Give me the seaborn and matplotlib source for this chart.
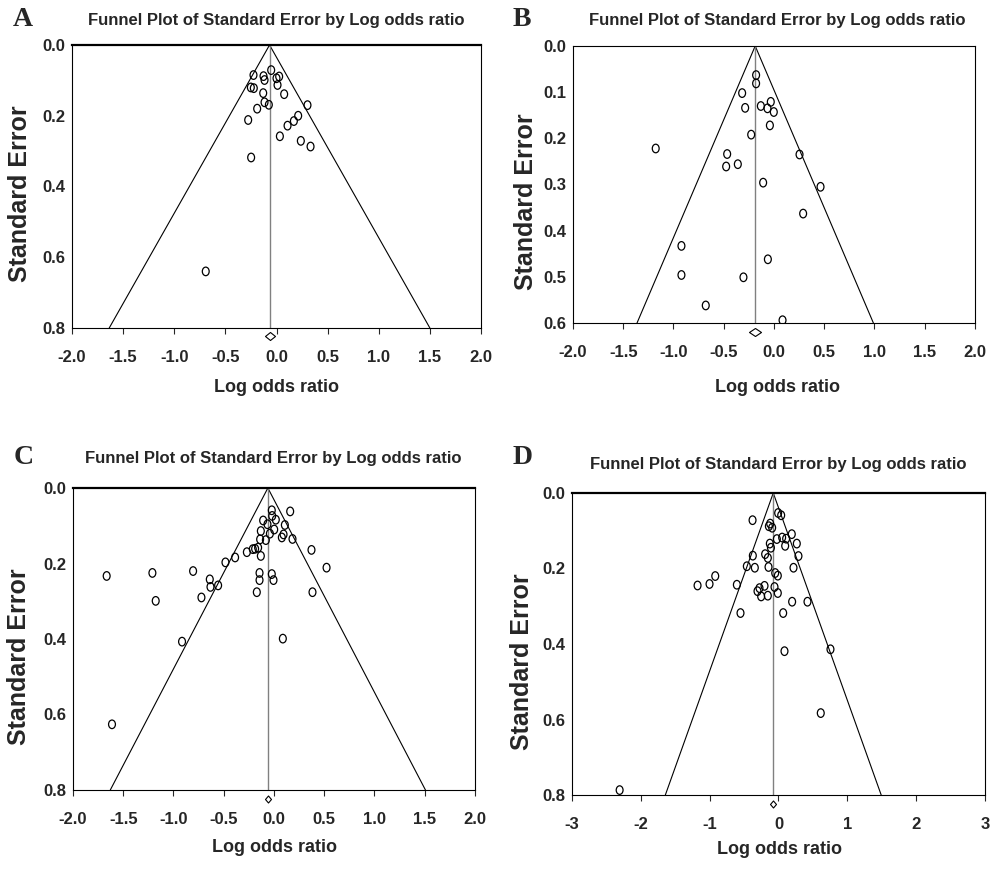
import numpy as np
import pandas as pd
import matplotlib
matplotlib.use("Agg")
import matplotlib.pyplot as plt
from matplotlib import font_manager
from matplotlib.path import Path
import seaborn as sns

# ---------------- data ----------------
a_lor = [-0.225, -0.127, -0.117, -0.052, 0.000, 0.026, 0.010, -0.251, -0.222, -0.130,
         0.075, -0.117, -0.075, -0.189, 0.303, -0.277, 0.212, 0.170, 0.108, 0.033,
         0.238, 0.333, -0.248, -0.692]
a_se = [0.085, 0.088, 0.099, 0.071, 0.094, 0.089, 0.113, 0.120, 0.122, 0.136,
        0.139, 0.162, 0.169, 0.180, 0.170, 0.212, 0.200, 0.215, 0.228, 0.258,
        0.271, 0.287, 0.318, 0.640]

b_lor = [-0.178, -0.178, -0.317, -0.287, -0.131, -0.032, -0.065, -0.002, -0.041, -0.227,
         -1.177, -0.466, -0.476, -0.360, 0.254, -0.108, 0.463, 0.290, -0.921, -0.061,
         -0.921, -0.304, -0.679, 0.085]
b_se = [0.063, 0.081, 0.102, 0.134, 0.130, 0.121, 0.135, 0.143, 0.172, 0.192,
        0.222, 0.234, 0.261, 0.256, 0.235, 0.296, 0.305, 0.363, 0.433, 0.462,
        0.496, 0.501, 0.562, 0.594]

c_lor = [-0.022, 0.161, -0.018, -0.108, 0.018, -0.065, 0.108, 0.002, -0.131, -0.041,
         0.095, 0.078, 0.184, -0.138, -0.081, -0.158, -0.188, -0.211, -0.270, -0.131,
         0.373, -0.387, -0.483, 0.523, -0.805, -1.210, -1.665, -0.144, -0.022, -0.144,
         -0.005, -0.639, -0.632, -0.556, -0.171, 0.383, -0.722, -1.177, -0.915, 0.088,
         -1.612]
c_se = [0.059, 0.062, 0.074, 0.086, 0.084, 0.096, 0.098, 0.110, 0.114, 0.121,
        0.123, 0.131, 0.135, 0.136, 0.138, 0.158, 0.161, 0.162, 0.170, 0.180,
        0.164, 0.184, 0.197, 0.211, 0.220, 0.225, 0.233, 0.225, 0.228, 0.244,
        0.244, 0.242, 0.262, 0.258, 0.276, 0.276, 0.290, 0.299, 0.407, 0.399,
        0.626]

d_lor = [-0.005, 0.039, -0.377, -0.121, -0.140, -0.092, 0.193, 0.053, -0.024, 0.111,
         0.266, -0.126, -0.110, 0.097, -0.194, -0.373, -0.155, 0.290, -0.460, -0.344,
         -0.145, 0.218, -0.048, -0.010, -0.919, -1.002, -1.176, -0.605, -0.203, -0.058,
         -0.276, -0.305, -0.252, -0.155, -0.010, 0.198, 0.421, -0.552, 0.068, 0.755,
         0.087, 0.614, -2.308]
d_se = [0.053, 0.059, 0.072, 0.081, 0.088, 0.092, 0.109, 0.118, 0.122, 0.121,
        0.134, 0.134, 0.145, 0.140, 0.162, 0.166, 0.172, 0.167, 0.194, 0.198,
        0.196, 0.198, 0.212, 0.219, 0.220, 0.241, 0.245, 0.243, 0.246, 0.249,
        0.252, 0.260, 0.274, 0.272, 0.265, 0.288, 0.288, 0.318, 0.318, 0.414,
        0.419, 0.583, 0.787]

panel_letters = ["A", "B", "C", "D"]
pooled_lor = [-0.068, -0.187, -0.061, -0.076]
diamond_se = [0.822, 0.619, 0.825, 0.824]
se_max = [0.8, 0.6, 0.8, 0.8]
y_ticks = [[0.0, 0.2, 0.4, 0.6, 0.8],
           [0.0, 0.1, 0.2, 0.3, 0.4, 0.5, 0.6],
           [0.0, 0.2, 0.4, 0.6, 0.8],
           [0.0, 0.2, 0.4, 0.6, 0.8]]
x_ticks = [[-2.0, -1.5, -1.0, -0.5, 0.0, 0.5, 1.0, 1.5, 2.0]] * 3 + [[-3, -2, -1, 0, 1, 2, 3]]
x_fmt = ["{:.1f}", "{:.1f}", "{:.1f}", "{:.0f}"]
title_text = "Funnel Plot of Standard Error by Log odds ratio"
x_label = "Log odds ratio"
y_label = "Standard Error"

panels = [(a_lor, a_se), (b_lor, b_se), (c_lor, c_se), (d_lor, d_se)]

# ---------------- style ----------------
sns.set_style("white")
names = {f.name for f in font_manager.fontManager.ttflist}
sans = "Liberation Sans Narrow" if "Liberation Sans Narrow" in names else "Liberation Sans"
plt.rcParams["font.family"] = [sans, "DejaVu Sans"]
plt.rcParams["font.weight"] = "bold"

W, H = 1003, 869
fig = plt.figure(figsize=(W / 100, H / 100), dpi=100)
fig.patch.set_facecolor("white")

# axes boxes in pixels (left, top, right, bottom)
boxes = [(72, 45, 481, 328), (573, 46, 975, 323), (73, 488, 475, 790), (572, 493, 985, 795)]
letter_pos = [(23, 20), (522, 20), (24, 457), (523, 457)]
title_pos = [(276, 20), (777, 20), (273, 458), (778, 465)]
ylab_pos = [(20, 194), (526, 202), (19, 657), (522, 662)]
xlab_pos = [(277, 388), (778, 387), (275, 848), (780, 850)]
diamond_px = [(10, 8), (12, 8), (6, 7), (6, 7)]
top_lw = [1.6, 0.8, 1.6, 1.6]

circ = Path.unit_circle()
ellipse = Path(circ.vertices * np.array([0.8, 1.0]), circ.codes)

for i, (lor, se) in enumerate(panels):
    l, t, r, b = boxes[i]
    ax = fig.add_axes([l / W, 1 - b / H, (r - l) / W, (b - t) / H])
    df = pd.DataFrame({"lor": lor, "se": se})
    sns.scatterplot(data=df, x="lor", y="se", ax=ax, marker=ellipse, s=38,
                    facecolor="none", edgecolor="black", linewidth=0.9, zorder=3)
    c = pooled_lor[i]
    m = se_max[i]
    ax.plot([c - 1.96 * m, c, c + 1.96 * m], [m, 0, m], color="black", lw=0.8, zorder=2)
    ax.plot([c, c], [0, m], color="#808080", lw=1.0, zorder=2)
    # pooled diamond
    dw, dh = diamond_px[i]
    dm = max(dw, dh)
    diamond = Path([(-dw / dm, 0), (0, dh / dm), (dw / dm, 0), (0, -dh / dm), (-dw / dm, 0)],
                   [Path.MOVETO, Path.LINETO, Path.LINETO, Path.LINETO, Path.CLOSEPOLY])
    ax.plot([c], [diamond_se[i]], marker=diamond, markersize=dm * 0.72,
            mfc="none", mec="black", mew=0.8, clip_on=False, ls="none", zorder=4)

    xt = x_ticks[i]
    ax.set_xlim(xt[0], xt[-1])
    ax.set_ylim(m, 0)
    ax.set_xticks(xt)
    ax.set_xticklabels([x_fmt[i].format(v) for v in xt])
    ax.set_yticks(y_ticks[i])
    ax.set_yticklabels(["{:.1f}".format(v) for v in y_ticks[i]])
    ax.tick_params(axis="x", direction="out", length=4, width=0.8, pad=12,
                   labelsize=12, bottom=True)
    ax.tick_params(axis="y", length=0, pad=5, labelsize=12, left=True)
    for lab in ax.get_xticklabels() + ax.get_yticklabels():
        lab.set_fontweight("bold")
    for side in ["left", "right", "bottom", "top"]:
        ax.spines[side].set_visible(True)
        ax.spines[side].set_color("black")
        ax.spines[side].set_linewidth(0.8)
    ax.spines["top"].set_linewidth(top_lw[i])

    ax.set_xlabel(x_label, fontsize=13, fontweight="bold")
    ax.set_ylabel(y_label, fontsize=18, fontweight="bold")
    xl, yl = xlab_pos[i]
    ax.xaxis.set_label_coords((xl - l) / (r - l), (b - yl) / (b - t))
    ax.xaxis.label.set_va("center")
    xl, yl = ylab_pos[i]
    ax.yaxis.set_label_coords((xl - l) / (r - l), (b - yl) / (b - t))
    ax.yaxis.label.set_va("center")

    tx, ty = title_pos[i]
    fig.text(tx / W, 1 - ty / H, title_text, ha="center", va="center",
             fontsize=12, fontweight="bold")
    lx, ly = letter_pos[i]
    fig.text(lx / W, 1 - ly / H, panel_letters[i], ha="center", va="center",
             fontsize=20, fontweight="bold", family=["Liberation Serif", "DejaVu Serif"])

fig.savefig("out.png", dpi=100, facecolor="white")
